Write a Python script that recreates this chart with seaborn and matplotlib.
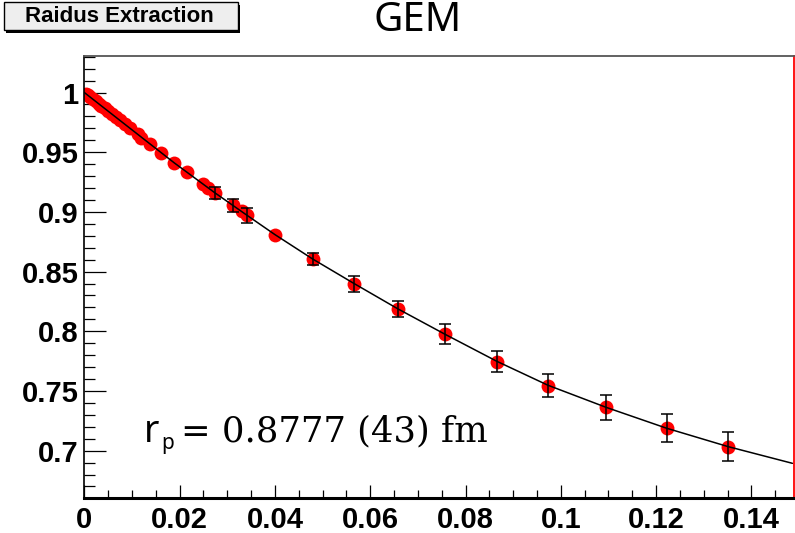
import matplotlib
matplotlib.use("Agg")
import matplotlib.pyplot as plt
from matplotlib.patches import Rectangle
from matplotlib.ticker import FixedLocator, MultipleLocator
import seaborn as sns
import pandas as pd

# Measured form factor points: Q^2 and G_E with uncertainties
# (uncertainties smaller than the marker are given as 0 and not drawn)
q2 = [0.0003, 0.0008, 0.0013, 0.0018, 0.0024, 0.0030, 0.0036, 0.0043, 0.0050,
      0.0058, 0.0066, 0.0075, 0.0085, 0.0096, 0.0113, 0.0120, 0.0138, 0.0162,
      0.0189, 0.0216, 0.0249, 0.0260, 0.0274, 0.0312, 0.0331, 0.0342, 0.0400,
      0.0479, 0.0567, 0.0658, 0.0757, 0.0866, 0.0973, 0.1095, 0.1222, 0.1351]
ge = [0.9990, 0.9975, 0.9960, 0.9944, 0.9926, 0.9907, 0.9888, 0.9867, 0.9845,
      0.9820, 0.9795, 0.9768, 0.9737, 0.9700, 0.9652, 0.9620, 0.9570, 0.9490,
      0.9410, 0.9330, 0.9235, 0.9200, 0.9160, 0.9055, 0.9005, 0.8970, 0.8810,
      0.8606, 0.8396, 0.8187, 0.7975, 0.7745, 0.7545, 0.7363, 0.7188, 0.7034]
ge_err = [0, 0, 0, 0, 0, 0, 0, 0, 0,
          0, 0, 0, 0, 0, 0, 0, 0, 0,
          0, 0, 0, 0, 0.0050, 0.0056, 0, 0.0063, 0,
          0.0052, 0.0063, 0.0070, 0.0082, 0.0090, 0.0098, 0.0106, 0.0115, 0.0124]

# Fitted curve
fit_q2 = [0.0, 0.0096, 0.0189, 0.0274, 0.0342, 0.0400, 0.0479, 0.0567, 0.0658,
          0.0757, 0.0866, 0.0973, 0.1095, 0.1222, 0.1351, 0.1486]
fit_ge = [1.0000, 0.9700, 0.9410, 0.9160, 0.8970, 0.8810, 0.8606, 0.8398, 0.8188,
          0.7975, 0.7748, 0.7548, 0.7363, 0.7188, 0.7034, 0.6894]

x_ticks = [0, 0.02, 0.04, 0.06, 0.08, 0.10, 0.12, 0.14]
x_labels = ["0", "0.02", "0.04", "0.06", "0.08", "0.1", "0.12", "0.14"]
y_ticks = [0.70, 0.75, 0.80, 0.85, 0.90, 0.95, 1.00]
y_labels = ["0.7", "0.75", "0.8", "0.85", "0.9", "0.95", "1"]

title = "GEM"
panel_label = "Raidus Extraction"

sns.set_theme(style="white")
plt.rcParams["font.family"] = ["Liberation Sans", "DejaVu Sans"]

W, H = 795, 533
fig = plt.figure(figsize=(W / 100, H / 100), dpi=100)
ax = fig.add_axes([84.3 / W, 1 - 497.7 / H, (794.3 - 84.3) / W, (497.7 - 55.5) / H])
ax.set_facecolor("white")

data = pd.DataFrame({"q2": q2, "ge": ge, "err": ge_err})
fit = pd.DataFrame({"q2": fit_q2, "ge": fit_ge})
bars = data[data["err"] > 0]

sns.scatterplot(data=data, x="q2", y="ge", ax=ax, color="#ff0000", s=100,
                linewidth=0, zorder=2, legend=False)
ax.errorbar(bars["q2"], bars["ge"], yerr=bars["err"], fmt="none", ecolor="black",
            elinewidth=1.1, capsize=4, capthick=1.1, zorder=3)
sns.lineplot(data=fit, x="q2", y="ge", ax=ax, color="black", linewidth=1.1,
             sort=False, estimator=None, zorder=4)

ax.set_xlim(0, 0.149)
ax.set_ylim(0.6606, 1.031)
ax.set_xlabel("")
ax.set_ylabel("")

ax.xaxis.set_major_locator(FixedLocator(x_ticks))
ax.set_xticklabels(x_labels)
ax.yaxis.set_major_locator(FixedLocator(y_ticks))
ax.set_yticklabels(y_labels)
ax.xaxis.set_minor_locator(MultipleLocator(0.005))
ax.yaxis.set_minor_locator(MultipleLocator(0.01))

ax.tick_params(axis="x", which="major", direction="in", length=9.6, width=0.9,
               color="black", pad=6, labelsize=21, bottom=True, top=False)
ax.tick_params(axis="x", which="minor", direction="in", length=5.5, width=0.9,
               color="black", bottom=True, top=False)
ax.tick_params(axis="y", which="major", direction="in", length=15.6, width=0.9,
               color="black", pad=4, labelsize=21, left=True, right=False)
ax.tick_params(axis="y", which="minor", direction="in", length=7.9, width=0.9,
               color="black", left=True, right=False)
for lab in ax.get_xticklabels() + ax.get_yticklabels():
    lab.set_fontweight("bold")
    lab.set_color("black")

ax.spines["left"].set_color("black")
ax.spines["left"].set_linewidth(1.2)
ax.spines["bottom"].set_color("black")
ax.spines["bottom"].set_linewidth(2.2)
ax.spines["top"].set_color("#555555")
ax.spines["top"].set_linewidth(1.3)
ax.spines["right"].set_color("#ff0000")
ax.spines["right"].set_linewidth(1.3)

# Title
fig.text(417.5 / W, 1 - 21 / H, title, ha="center", va="center", fontsize=29,
         family=["Noto Sans", "DejaVu Sans"], color="black")

# Labelled box at the top left, with a drop shadow
def px_rect(x0, y0, x1, y1, **kw):
    return Rectangle((x0 / W, 1 - y1 / H), (x1 - x0) / W, (y1 - y0) / H,
                     transform=fig.transFigure, **kw)

fig.patches.append(px_rect(6, 4.5, 240, 32.5, facecolor="black", edgecolor="none"))
fig.patches.append(px_rect(3.5, 2, 237.5, 30, facecolor="#eeeeee",
                           edgecolor="black", linewidth=1.0))
fig.text(119 / W, 1 - 17 / H, panel_label, ha="center", va="center",
         fontsize=16, fontweight="bold", color="black")

# Radius annotation
fig.text(144 / W, 1 - 441.7 / H, "r", ha="left", va="baseline", fontsize=27,
         family=["Noto Sans", "DejaVu Sans"], color="black")
fig.text(161 / W, 1 - 449 / H, "p", ha="left", va="baseline", fontsize=15,
         family=["Noto Sans", "DejaVu Sans"], color="black")
fig.text(181 / W, 1 - 441.7 / H, "= 0.8777 (43) fm", ha="left", va="baseline",
         fontsize=25.5, family=["DejaVu Serif"], color="black")

fig.savefig("out.png", dpi=100)
